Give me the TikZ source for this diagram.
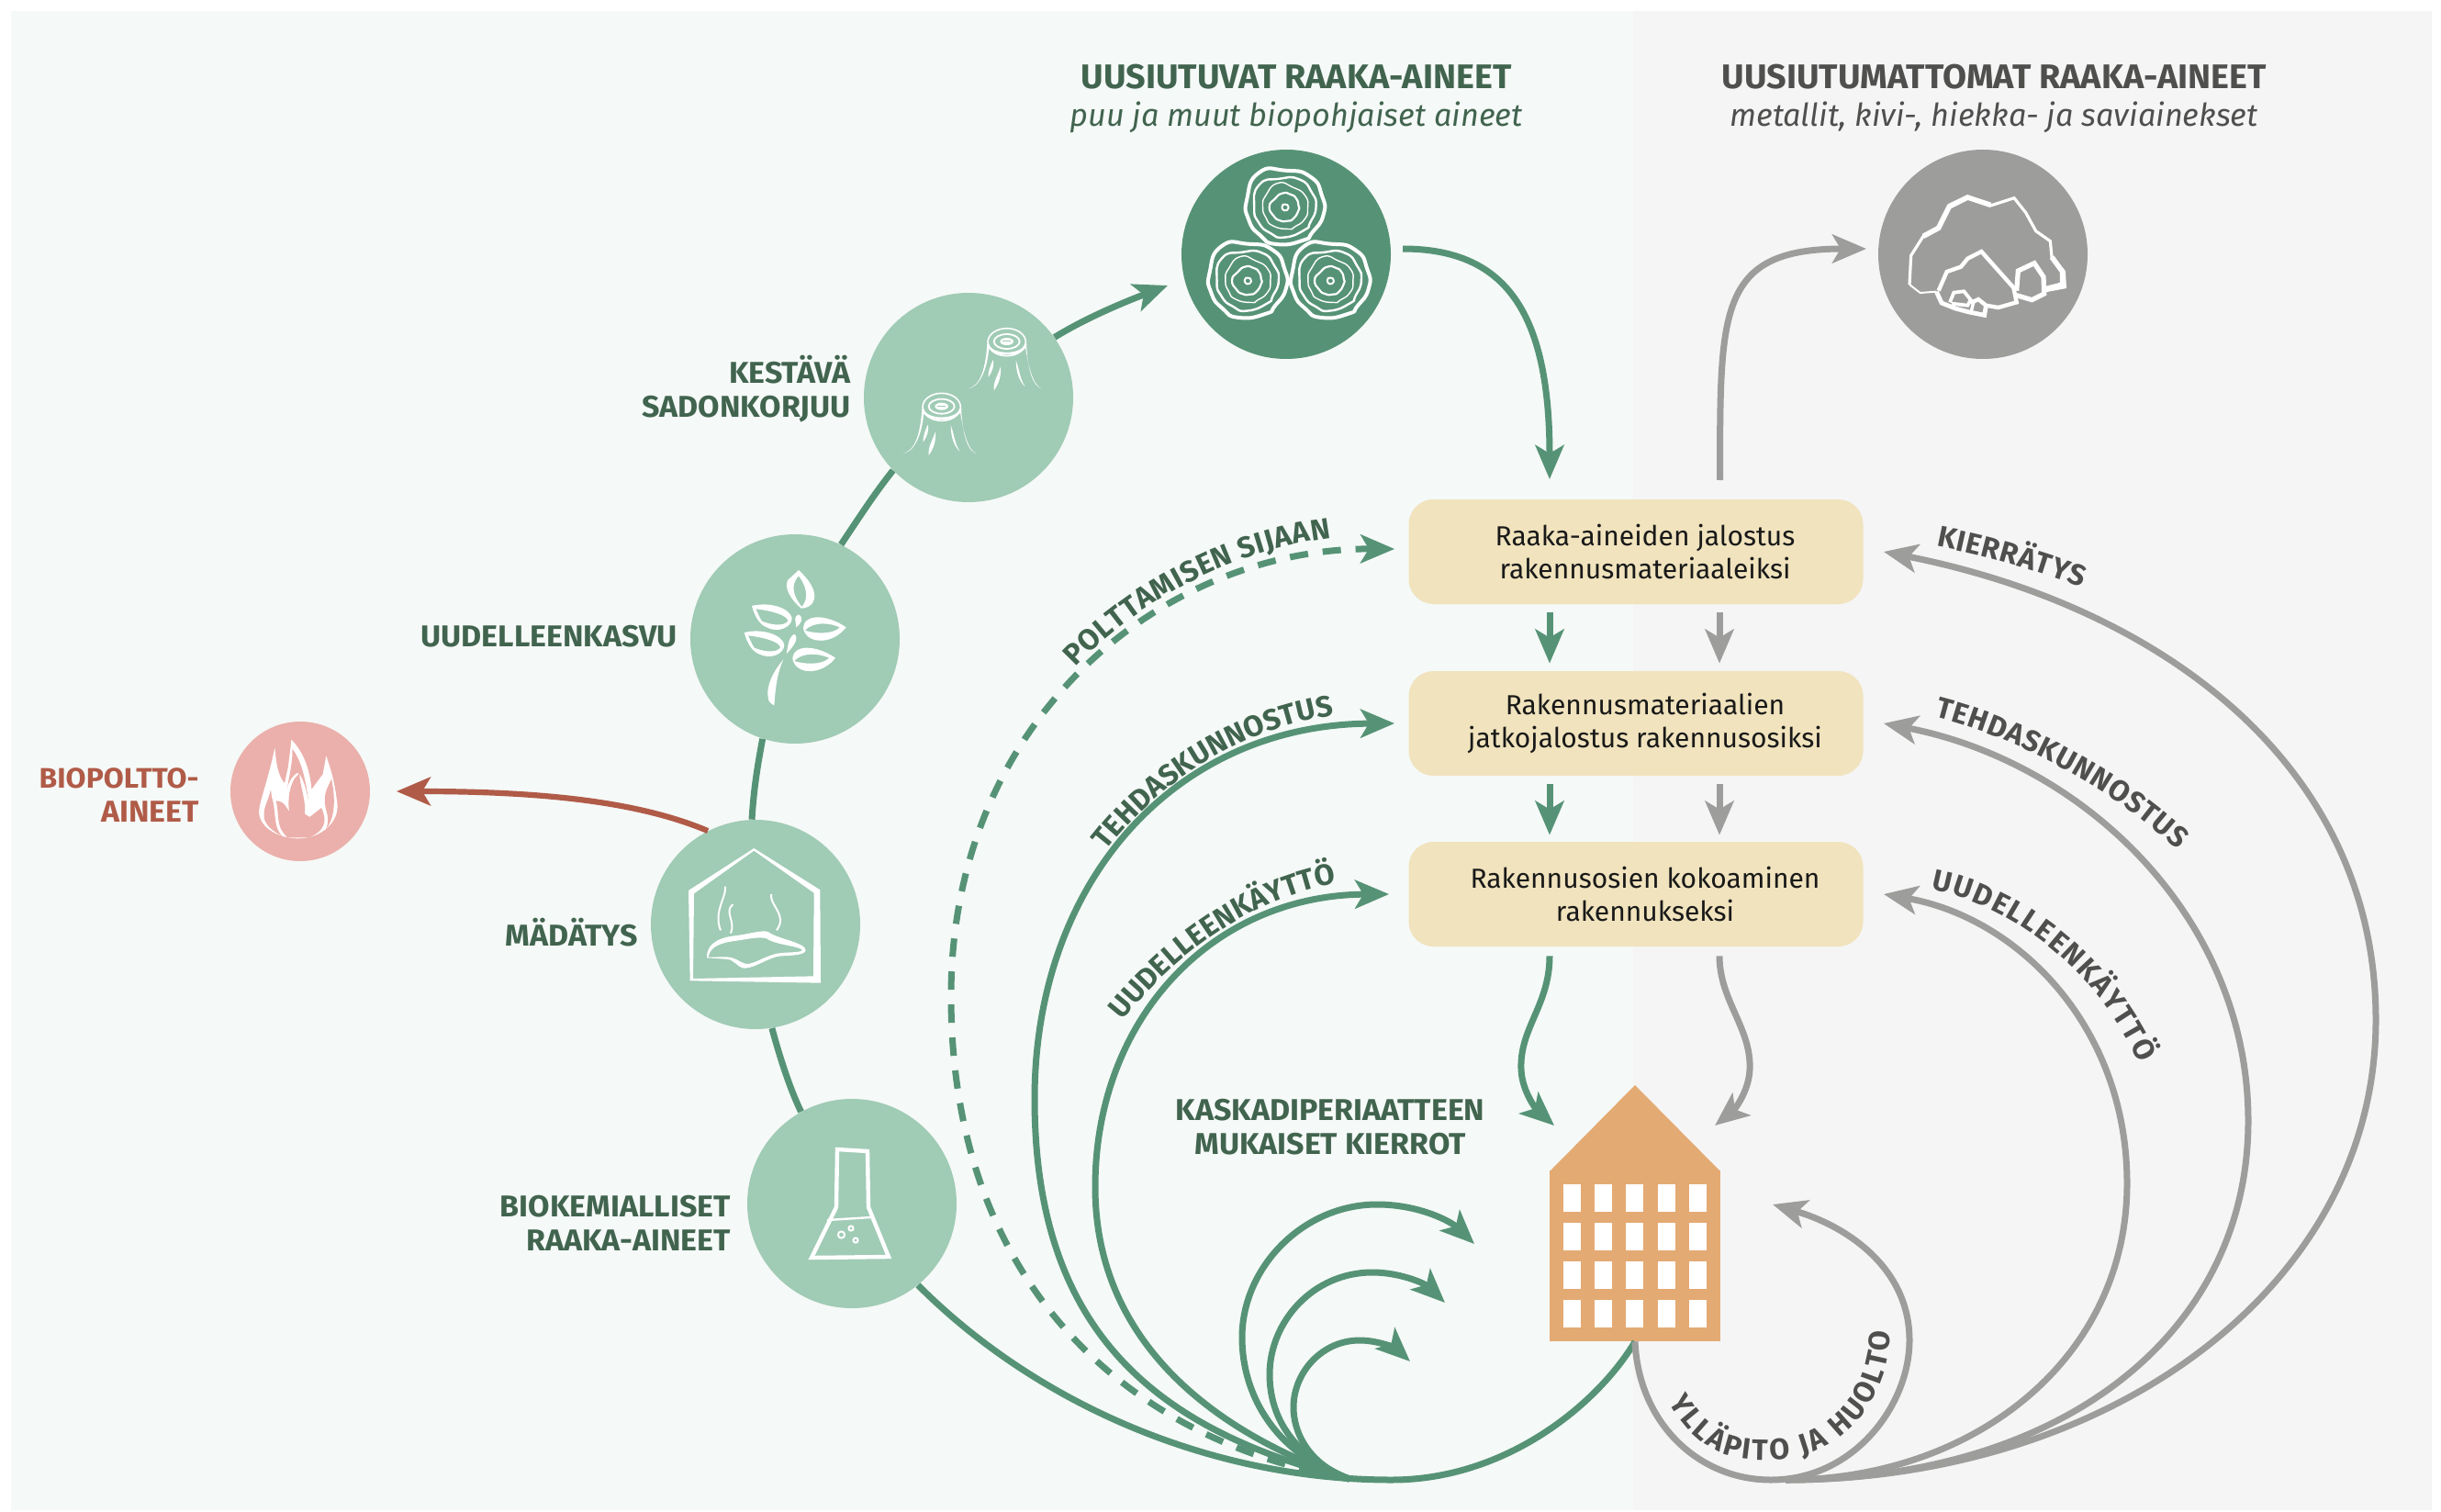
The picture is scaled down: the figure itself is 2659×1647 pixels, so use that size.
\documentclass[tikz,border=0pt]{standalone}
\usepackage{fontspec}
\setmainfont{Fira Sans}
\newfontfamily\titlefam[FakeStretch=1.015]{Fira Sans}
\newfontfamily\lblfam[FakeStretch=1.035]{Fira Sans}
\usetikzlibrary{arrows.meta,decorations.text}
\definecolor{cgreen}{HTML}{569376}
\definecolor{clight}{HTML}{A0CBB5}
\definecolor{cdark}{HTML}{41644F}
\definecolor{cgrey}{HTML}{9D9D9C}
\definecolor{ctext}{HTML}{4F4F4E}
\definecolor{cred}{HTML}{B05B48}
\definecolor{cpink}{HTML}{EBB0AB}
\definecolor{cbox}{HTML}{F0E3BD}
\definecolor{cbld}{HTML}{E4AA73}
\definecolor{bgleft}{HTML}{F5F9F7}
\definecolor{bgright}{HTML}{F5F5F5}
\newcommand{\lblfont}{\lblfam\bfseries\fontsize{16.4}{18.5}\selectfont}
\newcommand{\curvegreen}{\bfseries\fontsize{16}{18}\selectfont\color{cdark}}
\newcommand{\curvegrey}{\bfseries\fontsize{16}{18}\selectfont\color{ctext}}
\newcommand{\boxtext}[2]{\hspace*{10pt}\parbox[c]{220pt}{\centering\baselineskip=18pt #1\\#2}}
\tikzset{
  px/.style={x=0.5pt,y=-0.5pt},
  zoomed/.style={x=0.16667pt,y=-0.16667pt},
  ringnode/.style={circle,minimum size=114pt,inner sep=0pt,fill=clight},
  boxnode/.style={rectangle,rounded corners=13.5pt,fill=cbox,minimum width=247.5pt,minimum height=57pt,inner sep=0pt,font=\fontsize{15}{18}\selectfont,text=black!90},
  lbl/.style={inner sep=0pt,font=\lblfont,text=cdark,align=right,anchor=east},
  tip/.style={-{Stealth[length=18.5pt,width=15.5pt,inset=4.5pt]}},
  gline/.style={draw=cgreen,line width=3.5pt},
  yline/.style={draw=cgrey,line width=3.5pt},
  titlenode/.style={inner sep=0pt,anchor=base,font=\titlefam\bfseries\fontsize{18.6}{22}\selectfont},
  subnode/.style={inner sep=0pt,anchor=base,font=\itshape\fontsize{17.1}{20}\selectfont},
  curved/.style n args={2}{decorate,decoration={text along path,text={|#1|#2},text align={fit to path}}},
  logring/.pic={
    \def\logshape{plot[smooth cycle,tension=1] coordinates{(-90,-118)(0,-126)(85,-105)(125,-40)(130,25)(92,85)(60,112)(-30,125)(-85,95)(-125,40)(-130,-30)}}
    \draw[white,line width=2pt,line join=round,scale=.96] \logshape;
    \draw[white,line width=1.2pt,scale=.76,rotate=12] \logshape;
    \draw[white,line width=.7pt,scale=.56,rotate=-20] \logshape;
    \draw[white,line width=1.1pt,scale=.35,rotate=50] \logshape;
    \draw[white,line width=1pt,scale=.08] \logshape;
  },
  stump/.pic={
    \draw[white,line width=.8pt] (0,0) ellipse [x radius=62,y radius=45];
    \draw[white,line width=1.3pt] (-62,6) .. controls (-55,48) and (55,48) .. (62,6);
    \draw[white,line width=.9pt] (0,-2) ellipse [x radius=42,y radius=24];
    \fill[white] (0,-2) ellipse [x radius=22,y radius=12];
    \draw[clight,line width=.5pt] (-15,-3) -- (12,-3);
    \fill[white] (-64,8) .. controls (-70,85) and (-85,145) .. (-130,153) .. controls (-90,150) and (-62,90) .. (-58,12) -- cycle;
    \fill[white] (64,8) .. controls (70,90) and (82,140) .. (113,152) .. controls (85,138) and (72,85) .. (60,12) -- cycle;
    \fill[white] (-45,58) .. controls (-55,80) and (-62,100) .. (-60,115) .. controls (-48,95) and (-40,80) .. (-45,58) -- cycle;
    \fill[white] (-20,80) .. controls (-30,110) and (-45,130) .. (-42,158) .. controls (-25,135) and (-18,110) .. (-20,80) -- cycle;
    \fill[white] (30,60) .. controls (30,100) and (42,130) .. (60,145) .. controls (42,120) and (42,90) .. (30,60) -- cycle;
  },
  leafleft/.pic={
    \fill[white,even odd rule]
      (0,0) .. controls (60,-15) and (125,8) .. (131,40) .. controls (131,70) and (85,90) .. (48,70) .. controls (23,60) and (8,30) .. (0,0) -- cycle
      (13,10) .. controls (60,15) and (118,30) .. (118,50) .. controls (100,70) and (58,60) .. (33,50) .. controls (23,35) and (18,20) .. (13,10) -- cycle;
  },
  leafright/.pic={
    \fill[white,even odd rule]
      (0,0) .. controls (-35,-25) and (-95,-45) .. (-125,-25) .. controls (-145,-10) and (-145,10) .. (-125,30) .. controls (-95,55) and (-35,45) .. (0,0) -- cycle
      (-20,0) .. controls (-55,-15) and (-105,-20) .. (-135,10) .. controls (-105,20) and (-45,25) .. (-20,0) -- cycle;
  }
}
\begin{document}
\begin{tikzpicture}[px]
\useasboundingbox (0,0) rectangle (2659,1647);
\fill[white] (0,0) rectangle (2659,1647);
\fill[bgleft] (12,12) rectangle (1779,1645);
\fill[bgright] (1779,12) rectangle (2649,1645);

% --- nodes
\node[circle,minimum size=114pt,inner sep=0pt,fill=cgreen] (logs) at (1401,277) {};
\node[circle,minimum size=114pt,inner sep=0pt,fill=cgrey] (rock) at (2160,277) {};
\node[ringnode] (harvest) at (1055,433) {};
\node[ringnode] (regrow) at (866,696) {};
\node[ringnode] (digest) at (823,1007) {};
\node[ringnode] (biochem) at (928,1311) {};
\node[circle,minimum size=76pt,inner sep=0pt,fill=cpink] (fuel) at (327,862) {};

\node[boxnode] (box1) at (1782,601) {\boxtext{Raaka-aineiden jalostus}{rakennusmateriaaleiksi}};
\node[boxnode] (box2) at (1782,788) {\boxtext{Rakennusmateriaalien}{jatkojalostus rakennusosiksi}};
\node[boxnode] (box3) at (1782,974) {\boxtext{Rakennusosien kokoaminen}{rakennukseksi}};

% building
\node[rectangle,minimum width=93pt,minimum height=93pt,inner sep=0pt,fill=cbld] (building) at (1781,1368) {};
\fill[cbld] (1688,1276) -- (1781,1182) -- (1874,1276) -- cycle;
\foreach \r in {1290,1332,1374,1416}
  \foreach \c in {0,...,4}
    \fill[white] ({1702.5+34.4*\c},\r) rectangle ({1721.5+34.4*\c},\r+30);

% --- texts
\node[titlenode,text=cdark] (t1) at (1412,97) {UUSIUTUVAT RAAKA-AINEET};
\node[subnode,text=cdark] (s1) at (1412,138) {puu ja muut biopohjaiset aineet};
\node[titlenode,text=ctext] (t2) at (2172,97) {UUSIUTUMATTOMAT RAAKA-AINEET};
\node[subnode,text=ctext] (s2) at (2172,138) {metallit, kivi-, hiekka- ja saviainekset};
\node[lbl] (l1) at (927,424) {KESTÄVÄ\\SADONKORJUU};
\node[lbl] (l2) at (738,693) {UUDELLEENKASVU};
\node[lbl,text=cred] (l3) at (217,866) {{\fontsize{15.4}{18.5}\selectfont BIOPOLTTO-}\\AINEET};
\node[lbl] (l4) at (695,1016) {MÄDÄTYS};
\node[lbl] (l5) at (796,1332) {BIOKEMIALLISET\\RAAKA-AINEET};
\node[lbl,align=center,anchor=center] (l6) at (1449,1228) {KASKADIPERIAATTEEN\\MUKAISET KIERROT};

% --- free ends
\coordinate (hubg) at (1470,1611);
\coordinate (hubr) at (1945,1612);
\coordinate (tipharvest) at (1272,311);
\coordinate (fueltip) at (432,862);
\coordinate (logsout) at (1528,271);
\coordinate (inbox1) at (1688,522);
\coordinate (rockup) at (1873.5,523);
\coordinate (rockin) at (2033,271);

% --- main chain
\draw[gline] (biochem.119) .. controls (860,1185) and (849,1150) .. (digest.-81);
\draw[gline] (digest.92) .. controls (821,860) and (825,835) .. (regrow.-108);
\draw[gline] (regrow.64) .. controls (935,565) and (953,537) .. (harvest.-136);
\draw[gline,tip] (harvest.35) .. controls (1185,345) and (1230,327) .. (tipharvest);
\draw[draw=cred,line width=3.1pt,tip] (digest.117) .. controls (700,875) and (600,862) .. (fueltip);
% --- to and from top circles
\draw[gline,tip] (logsout) .. controls (1640,271) and (1688,340) .. (inbox1);
\draw[yline,tip] (rockup) .. controls (1874,340) and (1870,271) .. (rockin);
% --- between boxes
\draw[gline,tip] ([xshift=-47pt,yshift=-4.5pt]box1.south) -- ([xshift=-47pt,yshift=4pt]box2.north);
\draw[gline,tip] ([xshift=-47pt,yshift=-4.5pt]box2.south) -- ([xshift=-47pt,yshift=3.5pt]box3.north);
\draw[yline,tip] ([xshift=45.5pt,yshift=-4.5pt]box1.south) -- ([xshift=45.5pt,yshift=4pt]box2.north);
\draw[yline,tip] ([xshift=45.5pt,yshift=-4.5pt]box2.south) -- ([xshift=45.5pt,yshift=3.5pt]box3.north);
% --- box3 to building
\draw[gline,tip] ([xshift=-47pt,yshift=-5pt]box3.south) .. controls (1688,1095) and (1655,1120) .. (1657,1165) .. controls (1658,1190) and (1675,1210) .. (1693,1226);
\draw[yline,tip] ([xshift=45.5pt,yshift=-5pt]box3.south) .. controls (1873,1090) and (1908,1120) .. (1906,1165) .. controls (1905,1190) and (1888,1210) .. (1868,1226);
% --- green bottom arc
\draw[gline] (biochem.-51) .. controls (1130,1530) and (1320,1612) .. (1516,1612) .. controls (1640,1612) and (1740,1530) .. (building.south);
% --- green returns
\draw[gline,dashed,dash pattern=on 10pt off 8pt,tip] (hubg) .. controls (1230,1570) and (1036,1400) .. (1036,1085) .. controls (1036,780) and (1270,597) .. ([xshift=-7.5pt,yshift=1.5pt]box1.west);
\draw[gline,tip] (hubg) .. controls (1270,1560) and (1127,1460) .. (1127,1197) .. controls (1127,960) and (1280,789) .. ([xshift=-7.5pt]box2.west);
\draw[gline,tip] (hubg) .. controls (1320,1560) and (1193,1460) .. (1193,1293) .. controls (1193,1110) and (1320,975) .. ([xshift=-10.5pt]box3.west);
\draw[gline,tip] (hubg) .. controls (1390,1585) and (1353,1520) .. (1353,1457) .. controls (1353,1380) and (1420,1312) .. (1500,1312) .. controls (1545,1312) and (1580,1330) .. (1606,1355);
\draw[gline,tip] (hubg) .. controls (1405,1585) and (1383,1540) .. (1383,1497) .. controls (1383,1440) and (1430,1386) .. (1495,1386) .. controls (1525,1386) and (1552,1398) .. (1574,1419);
\draw[gline,tip] (hubg) .. controls (1425,1595) and (1409,1560) .. (1409,1533) .. controls (1409,1495) and (1440,1460) .. (1481,1460) .. controls (1503,1460) and (1522,1470) .. (1536,1483);
% --- grey returns
\draw[yline,tip] (building.south) .. controls (1785,1550) and (1850,1612) .. (1929,1612) .. controls (2020,1612) and (2080,1530) .. (2080,1460) .. controls (2080,1380) and (2010,1335) .. (1931,1312);
\draw[yline,tip] (hubr) .. controls (2300,1612) and (2588,1400) .. (2588,1111) .. controls (2588,830) and (2350,660) .. ([xshift=11pt]box1.east);
\draw[yline,tip] (hubr) .. controls (2250,1612) and (2449,1450) .. (2449,1221) .. controls (2449,1000) and (2270,830) .. ([xshift=11pt]box2.east);
\draw[yline,tip] (hubr) .. controls (2150,1612) and (2317,1480) .. (2317,1289) .. controls (2317,1120) and (2200,1000) .. ([xshift=11pt]box3.east);

% --- curved labels
\path[curved={\curvegreen}{POLTTAMISEN SIJAAN}] (1172,727) .. controls (1240,655) and (1340,600) .. (1450,586);
\path[curved={\curvegreen}{TEHDASKUNNOSTUS}] (1205,927) .. controls (1265,850) and (1350,795) .. (1453,779);
\path[curved={\curvegreen}{UUDELLEENKÄYTTÖ}] (1223,1112) .. controls (1280,1040) and (1360,980) .. (1456,962);
\path[curved={\curvegrey}{KIERRÄTYS}] (2109,595) .. controls (2160,605) and (2215,620) .. (2268,640);
\path[curved={\curvegrey}{TEHDASKUNNOSTUS}] (2107,781) .. controls (2190,802) and (2290,850) .. (2372,926);
\path[curved={\curvegrey}{UUDELLEENKÄYTTÖ}] (2103,969) .. controls (2175,982) and (2275,1040) .. (2330,1158);
\path[curved={\curvegrey}{YLLÄPITO JA HUOLTO}] (1818,1527) .. controls (1850,1585) and (1890,1592) .. (1933,1590) .. controls (2010,1588) and (2059,1520) .. (2059,1450);

% --- icons: logs
\begin{scope}[shift={(1290,170)},zoomed]
  \pic at (330,168) {logring};
  \pic at (208,408) {logring};
  \pic at (478,408) {logring};
\end{scope}
% --- icons: rock
\begin{scope}[shift={(2050,170)},zoomed,white,line join=miter]
  \draw[line width=1.6pt] (90,420) -- (95,325) -- (135,262) -- (185,235) -- (220,160) -- (280,132) -- (355,162) -- (432,137) -- (470,185) -- (503,245) -- (550,278) -- (555,330) -- (595,378) -- (598,428) -- (535,440);
  \draw[line width=2.8pt] (135,262) -- (185,235) -- (220,165) -- (280,135) -- (355,160);
  \draw[line width=2.8pt] (555,330) -- (590,378) -- (590,420) -- (535,434);
  \draw[line width=1pt] (90,420) -- (125,447) -- (178,443);
  \draw[line width=2.6pt] (440,440) -- (445,375) -- (498,350) -- (528,395) -- (530,450) -- (490,470) -- (440,455);
  \draw[line width=2.2pt] (185,440) -- (212,378) -- (258,362) -- (280,335) -- (325,312) -- (430,430) -- (440,478) -- (380,495) -- (340,488) -- (315,468) -- (290,480);
  \draw[line width=2.4pt] (178,443) -- (195,480) -- (240,498) -- (285,510) -- (335,520) -- (340,490);
  \draw[line width=1.9pt] (222,478) -- (235,446) -- (268,442) -- (290,470) -- (280,488) -- (228,482);
  \draw[line width=1.7pt] (290,515) -- (300,475);
\end{scope}
% --- icons: stumps and leaves
\begin{scope}[shift={(680,300)},zoomed]
  \pic at (1250,218) {stump};
  \pic at (1037,430) {stump};
  \fill[white,even odd rule]
    (570,963) .. controls (600,990) and (630,1030) .. (620,1060) .. controls (615,1080) and (595,1088) .. (578,1088) .. controls (545,1060) and (520,1020) .. (535,995) -- cycle
    (570,982) .. controls (595,1015) and (605,1055) .. (580,1083) .. controls (555,1050) and (540,1015) .. (570,982) -- cycle;
  \pic at (417,1080) {leafleft};
  \pic at (392,1167) {leafleft};
  \pic at (725,1150) {leafright};
  \pic at (690,1250) {leafright};
  \fill[white] (570,1108) .. controls (590,1120) and (575,1140) .. (562,1150) .. controls (562,1130) and (550,1118) .. (570,1108) -- cycle;
  \fill[white] (555,1172) .. controls (575,1185) and (550,1215) .. (530,1237) .. controls (535,1215) and (535,1185) .. (555,1172) -- cycle;
  \fill[white] (520,1255) .. controls (490,1290) and (462,1340) .. (470,1380) .. controls (472,1395) and (480,1400) .. (490,1405) .. controls (495,1340) and (500,1300) .. (520,1255) -- cycle;
\end{scope}
% --- icons: house
\begin{scope}[shift={(720,900)},zoomed]
  \fill[white,even odd rule] (90,210) -- (304,72) -- (520,208) -- (522,512) -- (95,505) -- cycle
    (108,220) -- (304,80) -- (500,218) -- (498,490) -- (105,498) -- cycle;
  \fill[white,even odd rule]
    (150,430) .. controls (148,390) and (180,365) .. (240,358) .. controls (290,352) and (330,338) .. (350,345) .. controls (380,368) and (472,380) .. (473,405) .. controls (470,427) and (400,420) .. (375,427) .. controls (330,442) and (300,465) .. (270,464) .. controls (245,458) and (240,434) .. (210,434) -- cycle
    (155,428) .. controls (160,395) and (190,382) .. (240,375) .. controls (290,368) and (320,360) .. (345,367) .. controls (375,388) and (455,392) .. (462,405) .. controls (455,415) and (400,410) .. (375,417) .. controls (335,427) and (305,450) .. (280,450) .. controls (255,445) and (245,427) .. (210,427) -- cycle;
  \draw[white,line width=1pt] (210,197) .. controls (215,230) and (170,280) .. (195,340);
  \draw[white,line width=1pt] (235,255) .. controls (205,280) and (245,310) .. (228,350);
  \draw[white,line width=1pt] (360,222) .. controls (355,260) and (415,290) .. (378,340);
\end{scope}
% --- icons: flask
\draw[white,line width=2.2pt,line join=miter] (912,1252) -- (945,1254) -- (946,1315) -- (968,1369) -- (884,1370) -- (911,1315) -- cycle;
\draw[white,line width=1.2pt] (901,1329) -- (949,1326);
\draw[white,line width=1pt] (916.5,1345) circle (3.6) (927,1338) circle (2.6) (932,1351) circle (2.6);
% --- icons: flame
\begin{scope}[shift={(250,785)},zoomed]
  \fill[white] (148,88) .. controls (152,135) and (158,180) .. (180,205) -- (192,150) .. controls (195,120) and (200,90) .. (202,62) .. controls (250,110) and (265,180) .. (268,225) -- (305,175) -- (316,115) .. controls (335,170) and (345,210) .. (352,270) .. controls (360,330) and (300,385) .. (225,385) .. controls (150,385) and (90,340) .. (97,290) .. controls (100,260) and (130,180) .. (148,88) -- cycle;
  \fill[cpink] (212,190) .. controls (195,220) and (190,260) .. (195,298) .. controls (180,270) and (170,262) .. (152,262) .. controls (165,320) and (150,345) .. (190,382) -- (260,382) .. controls (310,360) and (322,330) .. (300,285) -- (262,315) -- (246,305) .. controls (250,260) and (232,220) .. (228,172) -- cycle;
  \fill[cpink] (135,225) .. controls (125,270) and (105,290) .. (115,325) .. controls (125,350) and (150,365) .. (175,380) .. controls (140,350) and (155,300) .. (138,250) -- cycle;
  \fill[cpink] (333,190) .. controls (322,220) and (300,240) .. (318,300) .. controls (325,325) and (320,345) .. (315,355) .. controls (340,325) and (350,270) .. (333,190) -- cycle;
  \fill[cpink] (205,92) .. controls (235,130) and (248,190) .. (258,260) .. controls (248,210) and (235,175) .. (222,170) .. controls (205,180) and (190,205) .. (188,225) .. controls (195,180) and (208,130) .. (205,92) -- cycle;
\end{scope}
\end{tikzpicture}
\end{document}
